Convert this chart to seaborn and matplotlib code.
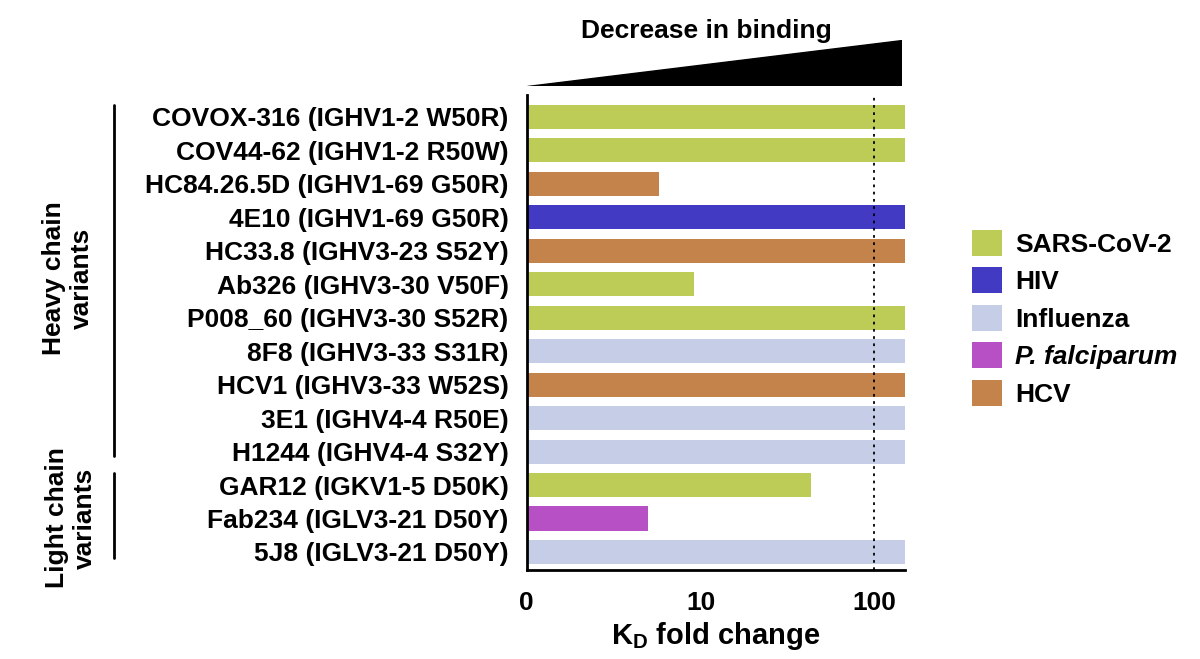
import numpy as np
import pandas as pd
import matplotlib.pyplot as plt
import seaborn as sns
from matplotlib.patches import Polygon
from matplotlib.lines import Line2D

plt.switch_backend('Agg')

# --- dados ---
antibodies = [
    "COVOX-316 (IGHV1-2 W50R)",
    "COV44-62 (IGHV1-2 R50W)",
    "HC84.26.5D (IGHV1-69 G50R)",
    "4E10 (IGHV1-69 G50R)",
    "HC33.8 (IGHV3-23 S52Y)",
    "Ab326 (IGHV3-30 V50F)",
    "P008_60 (IGHV3-30 S52R)",
    "8F8 (IGHV3-33 S31R)",
    "HCV1 (IGHV3-33 W52S)",
    "3E1 (IGHV4-4 R50E)",
    "H1244 (IGHV4-4 S32Y)",
    "GAR12 (IGKV1-5 D50K)",
    "Fab234 (IGLV3-21 D50Y)",
    "5J8 (IGLV3-21 D50Y)",
]
viruses = [
    "SARS-CoV-2", "SARS-CoV-2", "HCV", "HIV", "HCV", "SARS-CoV-2", "SARS-CoV-2",
    "Influenza", "HCV", "Influenza", "Influenza", "SARS-CoV-2", "P. falciparum", "Influenza",
]
kd_fold = [150, 150, 5.8, 150, 150, 9.2, 150, 150, 150, 150, 150, 43, 5.0, 150]

virus_order = ["SARS-CoV-2", "HIV", "Influenza", "P. falciparum", "HCV"]
virus_colors = ["#BDCB57", "#433AC3", "#C6CEE7", "#B850C5", "#C3834A"]

x_ticks = [1, 10, 100]
x_ticklabels = ["0", "10", "100"]

df = pd.DataFrame({"antibody": antibodies, "virus": viruses, "kd": kd_fold})

sns.set_style("white")
plt.rcParams['font.family'] = ['Liberation Sans', 'DejaVu Sans']
plt.rcParams['font.weight'] = 'bold'
for key in ['text.color', 'axes.labelcolor', 'xtick.color', 'ytick.color']:
    plt.rcParams[key] = 'black'

FS = 19

fig = plt.figure(figsize=(12, 6.59), dpi=100)
ax = fig.add_axes([0.439, 0.135, 0.315, 0.721])

sns.barplot(data=df, y="antibody", x="kd", hue="virus", hue_order=virus_order,
            palette=dict(zip(virus_order, virus_colors)), dodge=False,
            width=0.72, orient="h", saturation=1, edgecolor="none", ax=ax)

ax.set_xscale('log')
ax.set_xlim(1, 150)
ax.set_ylim(13.54, -0.66)
ax.set_xticks(x_ticks)
ax.set_xticklabels(x_ticklabels, fontsize=FS, fontweight='bold')
ax.xaxis.set_minor_locator(plt.NullLocator())
ax.tick_params(axis='y', labelsize=FS, length=9, width=2, pad=4)
ax.tick_params(axis='x', length=9, width=2, pad=6)
for lbl in ax.get_yticklabels():
    lbl.set_fontweight('bold')
ax.set_ylabel("")
ax.set_xlabel(r"K$_\mathregular{D}$ fold change", fontsize=21, fontweight='bold', labelpad=4)
for side in ["top", "right"]:
    ax.spines[side].set_visible(False)
for side in ["left", "bottom"]:
    ax.spines[side].set_linewidth(2)
    ax.spines[side].set_color("black")

ax.axvline(100, color="black", linestyle=(0, (1.5, 2.5)), linewidth=1.3, zorder=3)

# legenda
leg = ax.legend(loc="center left", bbox_to_anchor=(1.177, 0.53), frameon=False,
                fontsize=FS, handlelength=1.15, handleheight=1.15, handletextpad=0.5,
                labelspacing=0.4, borderpad=0, borderaxespad=0)
for txt in leg.get_texts():
    txt.set_fontweight('bold')
    if txt.get_text() == "P. falciparum":
        txt.set_fontstyle('italic')

# triângulo "Decrease in binding"
tri_ax = fig.add_axes([0.439, 1 - 86 / 659, 0.313, 46 / 659])
tri_ax.add_patch(Polygon([(0, 0), (1, 0), (1, 1)], closed=True, color="black"))
tri_ax.set_xlim(0, 1)
tri_ax.set_ylim(0, 1)
tri_ax.axis("off")
fig.text(0.589, 1 - 31 / 659, "Decrease in binding", ha="center", va="center",
         fontsize=FS, fontweight='bold')

# grupos de cadeias
fig.text(68 / 1200, 1 - 278 / 659, "Heavy chain\nvariants", rotation=90, ha="center",
         va="center", fontsize=FS, fontweight='bold', linespacing=1.25)
fig.text(71 / 1200, 1 - 518 / 659, "Light chain\nvariants", rotation=90, ha="center",
         va="center", fontsize=FS, fontweight='bold', linespacing=1.25)
fig.add_artist(Line2D([114 / 1200, 114 / 1200], [1 - 105 / 659, 1 - 456 / 659],
                      color="black", linewidth=2))
fig.add_artist(Line2D([114 / 1200, 114 / 1200], [1 - 473 / 659, 1 - 558 / 659],
                      color="black", linewidth=2))

fig.savefig("out.png", dpi=100)
